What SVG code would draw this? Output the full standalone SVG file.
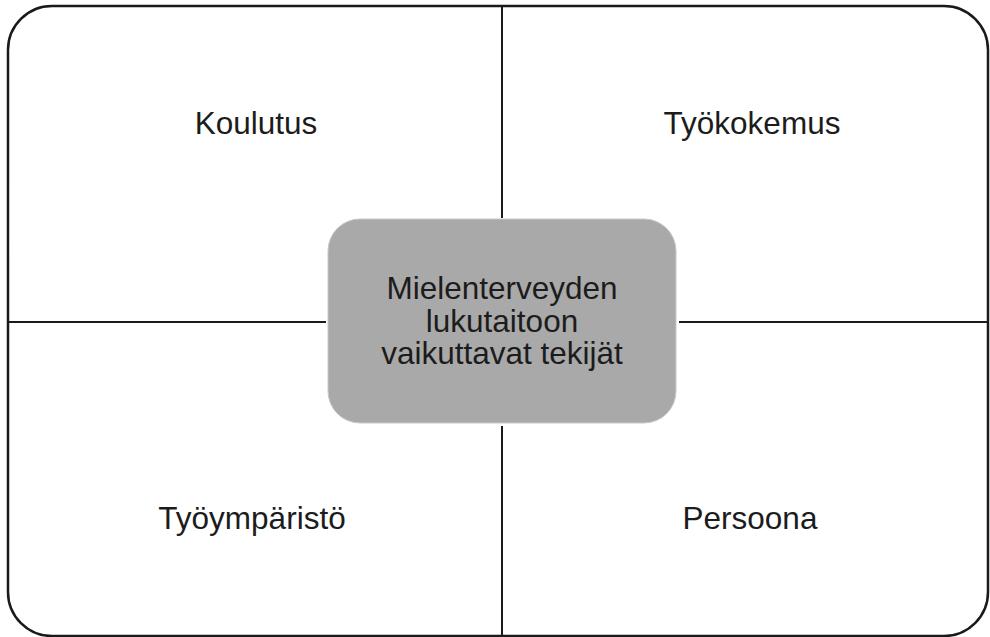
<svg xmlns="http://www.w3.org/2000/svg" width="990" height="637" viewBox="0 0 990 637">
  <style>
    .frame { fill: none; stroke: #1a1a1a; stroke-width: 2.5; }
    .divider { fill: none; stroke: #1a1a1a; stroke-width: 2; }
    .core { fill: #a9a9a9; stroke: #c8c8c8; stroke-width: 1; }
    .label { font-family: "Liberation Sans", Arial, sans-serif; font-size: 31.5px; fill: #1c1c1c; text-anchor: middle; }
  </style>
  <rect width="990" height="637" fill="#ffffff"/>

  <!-- outer rounded frame -->
  <rect id="frame" class="frame" x="8" y="6" width="980" height="630" rx="44" ry="44"/>

  <!-- quadrant dividers -->
  <g id="connectors">
    <line class="divider" x1="502" y1="6" x2="502" y2="218"/>
    <line class="divider" x1="502" y1="426" x2="502" y2="636"/>
    <line class="divider" x1="8" y1="322" x2="326" y2="322"/>
    <line class="divider" x1="679" y1="322" x2="988" y2="322"/>
  </g>

  <!-- quadrant labels -->
  <g id="koulutus"><text class="label" x="256" y="134">Koulutus</text></g>
  <g id="tyokokemus"><text class="label" x="752" y="134">Työkokemus</text></g>
  <g id="tyoymparisto"><text class="label" x="252" y="529">Työympäristö</text></g>
  <g id="persoona"><text class="label" x="750" y="529">Persoona</text></g>

  <!-- central box -->
  <g id="center">
    <rect class="core" x="328" y="219" width="348" height="204" rx="32" ry="32"/>
    <text class="label" x="502" y="299">Mielenterveyden</text>
    <text class="label" x="502" y="332">lukutaitoon</text>
    <text class="label" x="502" y="364">vaikuttavat tekijät</text>
  </g>
</svg>
